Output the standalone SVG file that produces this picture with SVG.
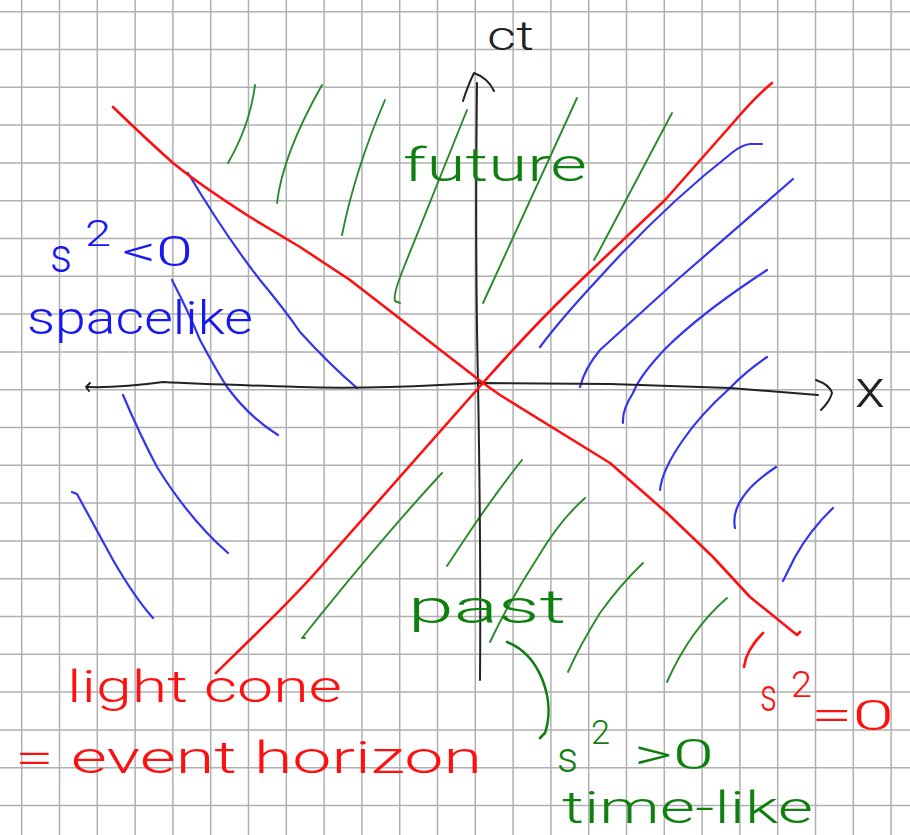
<svg xmlns="http://www.w3.org/2000/svg" width="910" height="835" viewBox="0 0 910 835">
<style>
.grid{stroke:#b0b0b0;stroke-width:1.5;fill:none}
.ax{stroke:#222;stroke-width:2;fill:none;stroke-linecap:round;stroke-linejoin:round}
.red{stroke:#ff1010;stroke-width:2.6;fill:none;stroke-linecap:round;stroke-linejoin:round}
.grn{stroke:#2a8a2a;stroke-width:1.9;fill:none;stroke-linecap:round;stroke-linejoin:round}
.blu{stroke:#3434f0;stroke-width:2.2;fill:none;stroke-linecap:round;stroke-linejoin:round}
text{font-family:Roboto,"Open Sans","Liberation Sans",Arial,sans-serif;font-weight:300}
.tk{fill:#222}
.tr{fill:#ff1010}
.tg{fill:#0f7f0f}
.tb{fill:#1818f0}
</style>
<rect width="910" height="835" fill="#ffffff"/>
<g id="grid">
<path class="grid" d="M21.7,0V835M59.5,0V835M97.3,0V835M135.1,0V835M172.9,0V835M210.7,0V835M248.5,0V835M286.3,0V835M324.1,0V835M361.9,0V835M399.7,0V835M437.5,0V835M475.3,0V835M513.1,0V835M550.9,0V835M588.7,0V835M626.5,0V835M664.3,0V835M702.1,0V835M739.9,0V835M777.7,0V835M815.5,0V835M853.3,0V835M891.1,0V835M0,11.7H910M0,49.5H910M0,87.3H910M0,125.1H910M0,162.9H910M0,200.7H910M0,238.5H910M0,276.3H910M0,314.1H910M0,351.9H910M0,389.7H910M0,427.5H910M0,465.3H910M0,503.1H910M0,540.9H910M0,578.7H910M0,616.5H910M0,654.3H910M0,692.1H910M0,729.9H910M0,767.7H910M0,805.5H910"/>
</g>
<g id="hatching-future">
<path class="grn" d="M255,85 Q250,125 228,163"/>
<path class="grn" d="M322,85 C305,115 282,160 277,203"/>
<path class="grn" d="M385,100 Q355,170 342,235"/>
<path class="grn" d="M467,110 L402,272 Q393,295 395,301 L400,303"/>
<path class="grn" d="M577,98 L495,277 L483,303"/>
<path class="grn" d="M672,113 L598,253 L594,260"/>
</g>
<g id="hatching-past">
<path class="grn" d="M442,473 Q380,540 302,638 L305,638"/>
<path class="grn" d="M522,460 Q490,500 453,557 L447,566"/>
<path class="grn" d="M585,498 Q560,520 538,557 Q510,600 490,642"/>
<path class="grn" d="M643,563 Q620,585 600,613 Q580,645 568,672"/>
<path class="grn" d="M727,598 Q690,630 667,682"/>
</g>
<g id="hatching-spacelike-left">
<path class="blu" d="M188,173 Q225,235 260,280 Q285,310 300,332 Q330,365 357,388"/>
<path class="blu" d="M172,280 Q190,315 200,340 Q215,368 227,387 Q250,418 278,435"/>
<path class="blu" d="M123,395 Q140,435 157,467 Q190,520 228,553"/>
<path class="blu" d="M72,492 L77,494 L113,560 Q135,598 153,618"/>
</g>
<g id="hatching-spacelike-right">
<path class="blu" d="M762,144 L750,144 Q742,145 733,152 Q665,205 600,277 Q560,320 540,347"/>
<path class="blu" d="M793,179 L677,280 L600,350 Q585,368 580,387"/>
<path class="blu" d="M767,270 L752,280 Q700,315 667,347 Q640,375 633,393 Q622,410 623,423"/>
<path class="blu" d="M767,357 Q745,372 730,388 Q700,415 683,440 Q662,470 660,490"/>
<path class="blu" d="M776,467 Q752,483 743,497 Q732,512 735,528"/>
<path class="blu" d="M833,508 Q810,530 795,557 L783,581"/>
</g>
<g id="axes">
<path class="ax" d="M477,83 Q475,250 478,383 Q481,550 480,680"/>
<path class="ax" d="M463,101 Q468,85 474,73 Q488,78 494,91"/>
<path class="ax" d="M87,387 Q120,388 163,382 Q200,384 300,387 Q360,389 440,385 L483,383 L610,384 L730,388 L818,395"/>
<path class="ax" d="M90,383 L86,387 L89,391"/>
<path class="ax" d="M816,380 Q830,385 832,393 Q830,401 821,410"/>
</g>
<g id="light-cone">
<path class="red" d="M216,673 C260,630 300,592 330,556 L482,384 C530,330 560,300 600,262 L665,200 L733,123 Q755,97 772,83"/>
<path class="red" d="M113,107 Q145,138 173,163 Q200,185 250,217 Q280,235 300,247 L350,280 L483,383 L500,395 L610,463 L667,513 L713,557 L750,597 L797,635 L800,632"/>
<path class="red" d="M763,633 Q746,650 744,667"/>
</g>
<g id="labels">
<text class="tk" x="487" y="50" font-size="40" textLength="47" lengthAdjust="spacingAndGlyphs">ct</text>
<text class="tk" x="855" y="407" font-size="54" textLength="30" lengthAdjust="spacingAndGlyphs">x</text>
<text class="tg" x="403" y="181" font-size="46" textLength="184" lengthAdjust="spacingAndGlyphs">future</text>
<text class="tb" x="27" y="334" font-size="46" textLength="226" lengthAdjust="spacingAndGlyphs">spacelike</text>
<g id="label-s2-lt">
<text class="tb" x="50" y="272" font-size="48" textLength="22" lengthAdjust="spacingAndGlyphs">s</text>
<text class="tb" x="85" y="246" font-size="36" textLength="26" lengthAdjust="spacingAndGlyphs">2</text>
<text class="tb" x="122" y="266" font-size="42" textLength="71" lengthAdjust="spacingAndGlyphs">&lt;0</text>
</g>
<text class="tg" x="408" y="623" font-size="46" textLength="158" lengthAdjust="spacingAndGlyphs">past</text>
<text class="tr" x="67" y="702" font-size="44" textLength="275" lengthAdjust="spacingAndGlyphs">light cone</text>
<text class="tr" x="15" y="773" font-size="44" textLength="467" lengthAdjust="spacingAndGlyphs">= event horizon</text>
<g id="label-s2-eq">
<text class="tr" x="760" y="711" font-size="46" textLength="17" lengthAdjust="spacingAndGlyphs">s</text>
<text class="tr" x="791" y="697" font-size="36" textLength="21" lengthAdjust="spacingAndGlyphs">2</text>
<text class="tr" x="811" y="730" font-size="42" textLength="83" lengthAdjust="spacingAndGlyphs">=0</text>
</g>
<g id="label-s2-gt">
<text class="tg" x="557" y="772" font-size="42" textLength="21" lengthAdjust="spacingAndGlyphs">s</text>
<text class="tg" x="591" y="744" font-size="34" textLength="19" lengthAdjust="spacingAndGlyphs">2</text>
<text class="tg" x="634" y="769" font-size="42" textLength="80" lengthAdjust="spacingAndGlyphs">&gt;0</text>
</g>
<text class="tg" x="562" y="823" font-size="44" textLength="251" lengthAdjust="spacingAndGlyphs">time-like</text>
</g>
<g id="connectors">
<path class="grn" style="stroke:#0f7f0f;stroke-width:2.6" d="M507,642 C540,655 556,700 545,733 L540,738"/>
</g>
</svg>
